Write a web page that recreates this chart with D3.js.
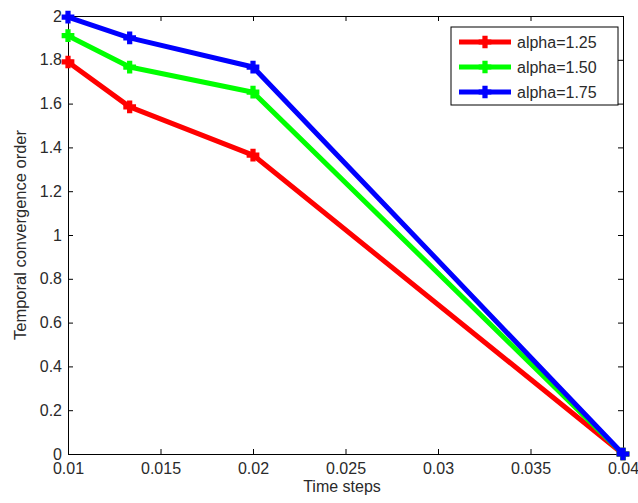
<!DOCTYPE html>
<html>
<head>
<meta charset="utf-8">
<script src="https://cdn.jsdelivr.net/npm/d3@7"></script>
<style>
  html, body { margin: 0; padding: 0; background: #fff; }
  svg { display: block; font-family: Arial, "Liberation Sans", sans-serif; }
</style>
</head>
<body>
<svg id="chart" width="638" height="503"></svg>
<script>
// Time step sizes (x) and convergence orders for each alpha
const timeSteps = [0.01, 1 / 75, 0.02, 0.04];
const order125 = [1.79, 1.585, 1.365, 0];
const order150 = [1.91, 1.767, 1.652, 0];
const order175 = [1.995, 1.90, 1.767, 0];
const seriesNames = ["alpha=1.25", "alpha=1.50", "alpha=1.75"];
const seriesColors = ["#ff0000", "#00ff00", "#0000ff"];
const xTicks = [0.01, 0.015, 0.02, 0.025, 0.03, 0.035, 0.04];
const xTickLabels = ["0.01", "0.015", "0.02", "0.025", "0.03", "0.035", "0.04"];
const yTicks = [0, 0.2, 0.4, 0.6, 0.8, 1, 1.2, 1.4, 1.6, 1.8, 2];
const yTickLabels = ["0", "0.2", "0.4", "0.6", "0.8", "1", "1.2", "1.4", "1.6", "1.8", "2"];

const series = [order125, order150, order175].map((vals, i) => ({
  name: seriesNames[i], color: seriesColors[i],
  points: vals.map((v, j) => ({ x: timeSteps[j], y: v }))
}));

const svg = d3.select("#chart");
const plotL = 68, plotR = 623, plotT = 16, plotB = 454;
const fontPx = "16px";
const textColor = "#2a2a2a";

const x = d3.scaleLinear().domain([0.01, 0.04]).range([plotL, plotR]);
const y = d3.scaleLinear().domain([0, 2]).range([plotB, plotT]);

const tickLen = 5;
const fmtX = d => xTickLabels[xTicks.indexOf(d)];
const fmtY = d => yTickLabels[yTicks.indexOf(d)];

// Axes with inward ticks on all four sides (boxed plot)
const gx = svg.append("g").attr("transform", `translate(0,${plotB})`)
  .call(d3.axisBottom(x).tickValues(xTicks).tickFormat(fmtX).tickSizeInner(-tickLen).tickSizeOuter(0).tickPadding(9));
const gxTop = svg.append("g").attr("transform", `translate(0,${plotT})`)
  .call(d3.axisTop(x).tickValues(xTicks).tickFormat("").tickSizeInner(-tickLen).tickSizeOuter(0));
const gy = svg.append("g").attr("transform", `translate(${plotL},0)`)
  .call(d3.axisLeft(y).tickValues(yTicks).tickFormat(fmtY).tickSizeInner(-tickLen).tickSizeOuter(0).tickPadding(6));
const gyRight = svg.append("g").attr("transform", `translate(${plotR},0)`)
  .call(d3.axisRight(y).tickValues(yTicks).tickFormat("").tickSizeInner(-tickLen).tickSizeOuter(0));

[gx, gxTop, gy, gyRight].forEach(g => {
  g.select(".domain").attr("stroke", "#000").attr("stroke-width", 1);
  g.selectAll(".tick line").attr("stroke", "#000");
  g.selectAll("text").attr("fill", textColor).style("font-size", fontPx);
});

// Series lines and markers
const line = d3.line().x(d => x(d.x)).y(d => y(d.y));
const marker = d3.symbol().type(d3.symbolCross).size(70);

const plot = svg.append("g");
series.forEach(s => {
  plot.append("path").datum(s.points)
    .attr("d", line).attr("fill", "none")
    .attr("stroke", s.color).attr("stroke-width", 5)
    .attr("stroke-linejoin", "round");
  plot.selectAll(null).data(s.points).enter().append("path")
    .attr("d", marker)
    .attr("transform", d => `translate(${x(d.x)},${y(d.y)})`)
    .attr("fill", s.color).attr("stroke", s.color).attr("stroke-width", 1.5);
});

// Legend
const lg = svg.append("g");
lg.append("rect").attr("x", 451).attr("y", 27).attr("width", 167).attr("height", 78)
  .attr("fill", "#fff").attr("stroke", "#000").attr("stroke-width", 1);
series.forEach((s, i) => {
  const ly = 42 + i * 25;
  lg.append("line").attr("x1", 459).attr("x2", 511).attr("y1", ly).attr("y2", ly)
    .attr("stroke", s.color).attr("stroke-width", 5);
  lg.append("path").attr("d", marker).attr("transform", `translate(485,${ly})`)
    .attr("fill", s.color).attr("stroke", s.color).attr("stroke-width", 1.5);
  lg.append("text").attr("x", 517).attr("y", ly).attr("dy", "0.36em")
    .style("font-size", fontPx).attr("fill", textColor).text(s.name);
});

// Axis titles
svg.append("text").attr("x", 342).attr("y", 492)
  .attr("text-anchor", "middle").style("font-size", fontPx).attr("fill", textColor)
  .text("Time steps");
svg.append("text").attr("transform", `translate(26,235) rotate(-90)`)
  .attr("text-anchor", "middle").style("font-size", "16.5px").attr("fill", textColor)
  .text("Temporal convergence order");
</script>
</body>
</html>
